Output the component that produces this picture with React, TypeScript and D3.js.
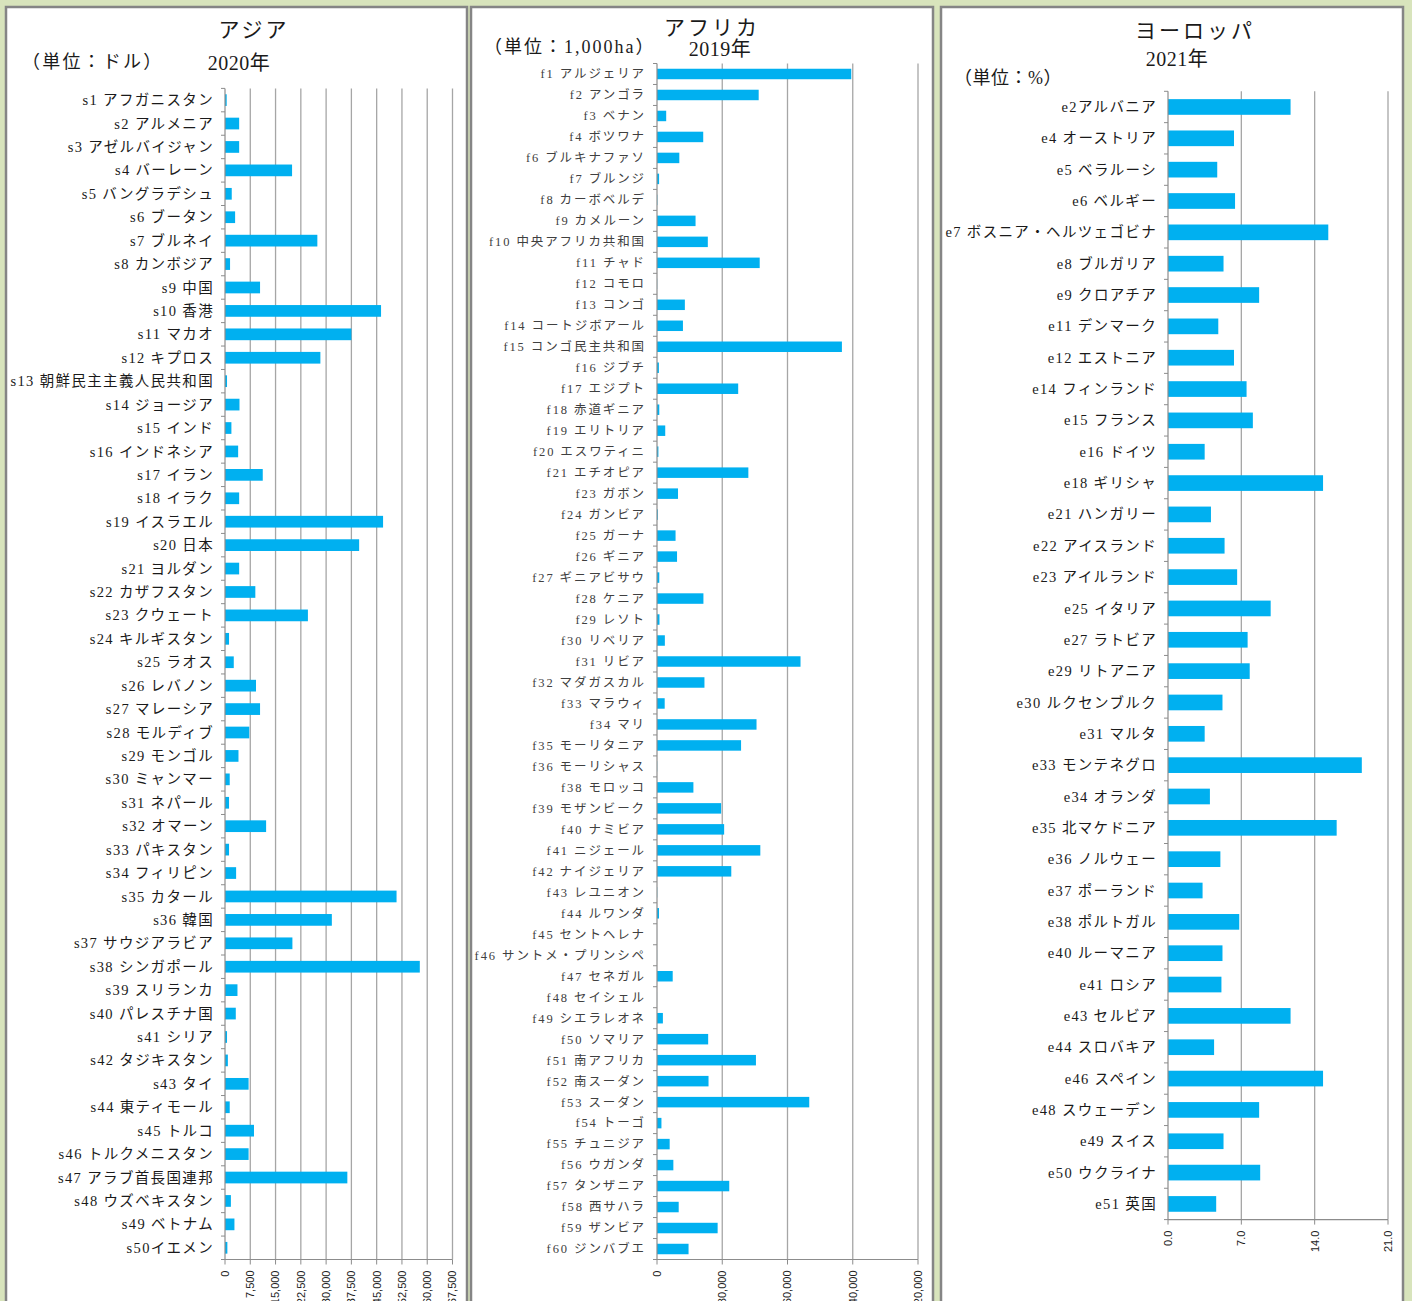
import React from "react";
import * as d3 from "d3";

// ---------- Data ----------
const asiaLabels = [
  "s1 アフガニスタン", "s2 アルメニア", "s3 アゼルバイジャン", "s4 バーレーン", "s5 バングラデシュ",
  "s6 ブータン", "s7 ブルネイ", "s8 カンボジア", "s9 中国", "s10 香港",
  "s11 マカオ", "s12 キプロス", "s13 朝鮮民主主義人民共和国", "s14 ジョージア", "s15 インド",
  "s16 インドネシア", "s17 イラン", "s18 イラク", "s19 イスラエル", "s20 日本",
  "s21 ヨルダン", "s22 カザフスタン", "s23 クウェート", "s24 キルギスタン", "s25 ラオス",
  "s26 レバノン", "s27 マレーシア", "s28 モルディブ", "s29 モンゴル", "s30 ミャンマー",
  "s31 ネパール", "s32 オマーン", "s33 パキスタン", "s34 フィリピン", "s35 カタール",
  "s36 韓国", "s37 サウジアラビア", "s38 シンガポール", "s39 スリランカ", "s40 パレスチナ国",
  "s41 シリア", "s42 タジキスタン", "s43 タイ", "s44 東ティモール", "s45 トルコ",
  "s46 トルクメニスタン", "s47 アラブ首長国連邦", "s48 ウズベキスタン", "s49 ベトナム", "s50イエメン",
];
const asiaValues = [
  500, 4200, 4200, 19900, 2000,
  3000, 27400, 1500, 10400, 46300,
  37500, 28300, 600, 4300, 1900,
  3900, 11200, 4200, 46900, 39800,
  4200, 9000, 24600, 1200, 2600,
  9200, 10400, 7200, 4000, 1400,
  1200, 12200, 1200, 3300, 50900,
  31700, 20000, 57800, 3700, 3200,
  600, 850, 7000, 1400, 8600,
  7000, 36300, 1750, 2800, 700,
];
const asiaTicks = [0, 7500, 15000, 22500, 30000, 37500, 45000, 52500, 60000, 67500];

const africaLabels = [
  "f1 アルジェリア", "f2 アンゴラ", "f3 ベナン", "f4 ボツワナ", "f6 ブルキナファソ",
  "f7 ブルンジ", "f8 カーボベルデ", "f9 カメルーン", "f10 中央アフリカ共和国", "f11 チャド",
  "f12 コモロ", "f13 コンゴ", "f14 コートジボアール", "f15 コンゴ民主共和国", "f16 ジブチ",
  "f17 エジプト", "f18 赤道ギニア", "f19 エリトリア", "f20 エスワティニ", "f21 エチオピア",
  "f23 ガボン", "f24 ガンビア", "f25 ガーナ", "f26 ギニア", "f27 ギニアビサウ",
  "f28 ケニア", "f29 レソト", "f30 リベリア", "f31 リビア", "f32 マダガスカル",
  "f33 マラウィ", "f34 マリ", "f35 モーリタニア", "f36 モーリシャス", "f38 モロッコ",
  "f39 モザンビーク", "f40 ナミビア", "f41 ニジェール", "f42 ナイジェリア", "f43 レユニオン",
  "f44 ルワンダ", "f45 セントヘレナ", "f46 サントメ・プリンシペ", "f47 セネガル", "f48 セイシェル",
  "f49 シエラレオネ", "f50 ソマリア", "f51 南アフリカ", "f52 南スーダン", "f53 スーダン",
  "f54 トーゴ", "f55 チュニジア", "f56 ウガンダ", "f57 タンザニア", "f58 西サハラ",
  "f59 ザンビア", "f60 ジンバブエ",
];
const africaValues = [
  238174, 124670, 11276, 56673, 27360,
  2568, 403, 47271, 62298, 125920,
  186, 34150, 31800, 226705, 2318,
  99545, 2805, 10100, 1720, 112000,
  25767, 1012, 22754, 24572, 2812,
  56914, 3036, 9632, 175954, 58180,
  9428, 122019, 103070, 203, 44630,
  78638, 82329, 126670, 91077, 250,
  2467, 39, 96, 19253, 46,
  7218, 62734, 121309, 63170, 186665,
  5439, 15536, 20052, 88580, 26600,
  74339, 38685,
];
const africaTicks = [0, 80000, 160000, 240000, 320000];

const europeLabels = [
  "e2アルバニア", "e4 オーストリア", "e5 ベラルーシ", "e6 ベルギー", "e7 ボスニア・ヘルツェゴビナ",
  "e8 ブルガリア", "e9 クロアチア", "e11 デンマーク", "e12 エストニア", "e14 フィンランド",
  "e15 フランス", "e16 ドイツ", "e18 ギリシャ", "e21 ハンガリー", "e22 アイスランド",
  "e23 アイルランド", "e25 イタリア", "e27 ラトビア", "e29 リトアニア", "e30 ルクセンブルク",
  "e31 マルタ", "e33 モンテネグロ", "e34 オランダ", "e35 北マケドニア", "e36 ノルウェー",
  "e37 ポーランド", "e38 ポルトガル", "e40 ルーマニア", "e41 ロシア", "e43 セルビア",
  "e44 スロバキア", "e46 スペイン", "e48 スウェーデン", "e49 スイス", "e50 ウクライナ",
  "e51 英国",
];
const europeValues = [
  11.7, 6.3, 4.7, 6.4, 15.3,
  5.3, 8.7, 4.8, 6.3, 7.5,
  8.1, 3.5, 14.8, 4.1, 5.4,
  6.6, 9.8, 7.6, 7.8, 5.2,
  3.5, 18.5, 4.0, 16.1, 5.0,
  3.3, 6.8, 5.2, 5.1, 11.7,
  4.4, 14.8, 8.7, 5.3, 8.8,
  4.6,
];
const europeTicks = [0, 7, 14, 21];

// ---------- Styling ----------
const BG = "#d8e4bc";
const BAR = "#00b0f0";
const GRID = "#a6a6a6";
const AXIS = "#8c8c8c";
const JP = "'Liberation Serif', 'Noto Sans CJK JP', serif";
const NUM = "'Liberation Sans', Arial, sans-serif";

type Panel = {
  box: [number, number, number, number];
  labels: string[];
  values: number[];
  ticks: number[];
  fmt: (v: number) => string;
  x0: number;
  x1: number;
  top: number;
  bottom: number;
  labelSize: number;
  labelColor: string;
  labelSpacing: number;
  texts: { t: string; x: number; y: number; size: number; anchor: string; spacing?: number }[];
};

const panels: Panel[] = [
  {
    box: [6, 7, 461, 1320],
    labels: asiaLabels,
    values: asiaValues,
    ticks: asiaTicks,
    fmt: d3.format(","),
    x0: 225,
    x1: 452.5,
    top: 88.4,
    bottom: 1259.5,
    labelSize: 14.5,
    labelColor: "#1a1a1a",
    labelSpacing: 1.35,
    texts: [
      { t: "アジア", x: 254, y: 37, size: 21, anchor: "middle", spacing: 3 },
      { t: "（単位：ドル）", x: 22, y: 68, size: 18, anchor: "start", spacing: 2.2 },
      { t: "2020年", x: 239, y: 70, size: 20, anchor: "middle", spacing: 0.5 },
    ],
  },
  {
    box: [471, 7, 462, 1320],
    labels: africaLabels,
    values: africaValues,
    ticks: africaTicks,
    fmt: d3.format(","),
    x0: 657,
    x1: 918,
    top: 63.5,
    bottom: 1259.5,
    labelSize: 12.5,
    labelColor: "#404040",
    labelSpacing: 1.9,
    texts: [
      { t: "アフリカ", x: 712, y: 35, size: 21, anchor: "middle", spacing: 3 },
      { t: "（単位：1,000ha）", x: 484, y: 53, size: 18, anchor: "start", spacing: 2 },
      { t: "2019年", x: 720, y: 56, size: 20, anchor: "middle", spacing: 0.5 },
    ],
  },
  {
    box: [941, 7, 462, 1320],
    labels: europeLabels,
    values: europeValues,
    ticks: europeTicks,
    fmt: d3.format(".1f"),
    x0: 1168,
    x1: 1388,
    top: 91.3,
    bottom: 1219.6,
    labelSize: 14.5,
    labelColor: "#1a1a1a",
    labelSpacing: 1.35,
    texts: [
      { t: "ヨーロッパ", x: 1195, y: 38, size: 21, anchor: "middle", spacing: 3 },
      { t: "2021年", x: 1177, y: 66, size: 20, anchor: "middle", spacing: 0.5 },
      { t: "（単位：%）", x: 954, y: 84, size: 18, anchor: "start", spacing: 0.5 },
    ],
  },
];

function PanelView({ p }: { p: Panel }) {
  const y = d3
    .scaleBand<string>()
    .domain(p.labels)
    .range([p.top, p.bottom])
    .paddingInner(0.5)
    .paddingOuter(0.25);
  const x = d3
    .scaleLinear()
    .domain([p.ticks[0], p.ticks[p.ticks.length - 1]])
    .range([p.x0, p.x1]);
  const step = (p.bottom - p.top) / p.labels.length;
  const bw = y.bandwidth();
  const [bx, by, bwid, bh] = p.box;
  return (
    <g>
      <rect x={bx} y={by} width={bwid} height={bh} fill="#ffffff" stroke="#858585" strokeWidth={2.5} />
      {p.texts.map((t, i) => (
        <text
          key={i}
          x={t.x}
          y={t.y}
          fontSize={t.size}
          textAnchor={t.anchor as any}
          fontFamily={JP}
          fill="#1a1a1a"
          letterSpacing={t.spacing ?? 0}
        >
          {t.t}
        </text>
      ))}
      {/* gridlines */}
      {p.ticks.slice(1).map((t) => (
        <line key={"g" + t} x1={x(t)} x2={x(t)} y1={p.top} y2={p.bottom} stroke={GRID} strokeWidth={1.3} />
      ))}
      {/* bars */}
      {p.labels.map((l, i) => (
        <rect
          key={l}
          x={x(0)}
          y={y(l)!}
          width={Math.max(0, x(p.values[i]) - x(0))}
          height={bw}
          fill={BAR}
        />
      ))}
      {/* category axis */}
      <line x1={p.x0} x2={p.x0} y1={p.top} y2={p.bottom} stroke={AXIS} strokeWidth={1.2} />
      {d3.range(p.labels.length + 1).map((i) => (
        <line
          key={"ct" + i}
          x1={p.x0 - 4}
          x2={p.x0}
          y1={p.top + i * step}
          y2={p.top + i * step}
          stroke={AXIS}
          strokeWidth={1}
        />
      ))}
      {p.labels.map((l) => (
        <text
          key={"l" + l}
          x={p.x0 - 11}
          y={y(l)! + bw / 2}
          dy="0.35em"
          textAnchor="end"
          fontSize={p.labelSize}
          fontFamily={JP}
          fill={p.labelColor}
          letterSpacing={p.labelSpacing}
        >
          {l}
        </text>
      ))}
      {/* value axis */}
      <line x1={p.x0} x2={p.x1} y1={p.bottom} y2={p.bottom} stroke={AXIS} strokeWidth={1.2} />
      {p.ticks.map((t) => (
        <g key={"vt" + t}>
          <line x1={x(t)} x2={x(t)} y1={p.bottom} y2={p.bottom + 5} stroke={AXIS} strokeWidth={1} />
          <text
            transform={`translate(${x(t)},${p.bottom + 11}) rotate(-90)`}
            textAnchor="end"
            dy="0.35em"
            fontSize={11}
            fontFamily={NUM}
            fill="#222"
          >
            {p.fmt(t)}
          </text>
        </g>
      ))}
    </g>
  );
}

export default function App() {
  return (
    <svg
      width={1412}
      height={1301}
      style={{ position: "absolute", left: 0, top: 0, display: "block" }}
    >
      <rect x={0} y={0} width={1412} height={1301} fill={BG} />
      {panels.map((p, i) => (
        <PanelView key={i} p={p} />
      ))}
    </svg>
  );
}
